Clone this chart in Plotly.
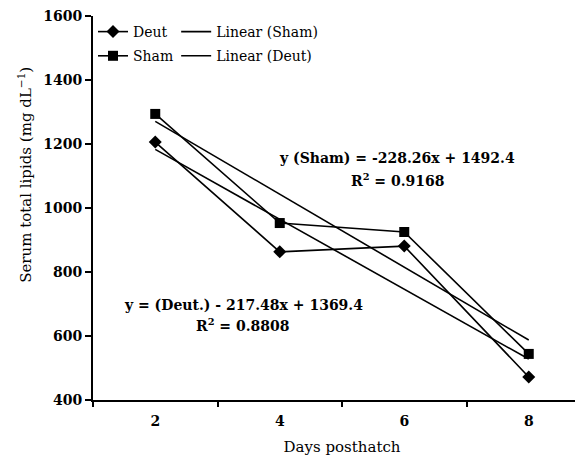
import numpy as np
import plotly.graph_objects as go

days = [2, 4, 6, 8]
deut = [1206, 863, 881, 472]
sham = [1294, 953, 925, 544]
y_ticks = [400, 600, 800, 1000, 1200, 1400, 1600]

FONT = "DejaVu Serif"
BLACK = "#000000"

# linear trendlines (fit on point index 1..4, as in a spreadsheet trendline)
idx = np.arange(1, len(days) + 1)
ps = np.polyfit(idx, sham, 1)
pdt = np.polyfit(idx, deut, 1)
trend_sham = list(np.polyval(ps, idx))
trend_deut = list(np.polyval(pdt, idx))

fig = go.Figure()
fig.add_trace(go.Scatter(x=days, y=deut, mode="lines+markers", name="Deut",
                         line=dict(color=BLACK, width=1.6),
                         marker=dict(symbol="diamond", size=10, color=BLACK),
                         legend="legend", legendgroup="a"))
fig.add_trace(go.Scatter(x=days, y=sham, mode="lines+markers", name="Sham",
                         line=dict(color=BLACK, width=1.6),
                         marker=dict(symbol="square", size=10, color=BLACK),
                         legend="legend", legendgroup="b"))
fig.add_trace(go.Scatter(x=[days[0], days[-1]], y=[trend_sham[0], trend_sham[-1]],
                         mode="lines", name="Linear (Sham)",
                         line=dict(color=BLACK, width=1.6),
                         legend="legend2", legendgroup="c"))
fig.add_trace(go.Scatter(x=[days[0], days[-1]], y=[trend_deut[0], trend_deut[-1]],
                         mode="lines", name="Linear (Deut)",
                         line=dict(color=BLACK, width=1.6),
                         legend="legend2", legendgroup="d"))

fig.update_layout(
    width=583, height=455,
    margin=dict(l=85, r=0, t=8, b=63),
    paper_bgcolor="white", plot_bgcolor="white",
    font=dict(family=FONT, size=14, color=BLACK),
    showlegend=True,
    legend=dict(x=0.0, y=1.0, xanchor="left", yanchor="top",
                bgcolor="rgba(0,0,0,0)", font=dict(size=14),
                tracegroupgap=3, itemwidth=30),
    legend2=dict(x=0.167, y=1.0, xanchor="left", yanchor="top",
                 bgcolor="rgba(0,0,0,0)", font=dict(size=14),
                 tracegroupgap=3, itemwidth=30),
    xaxis=dict(range=[1, 9], tickmode="array", tickvals=days,
               ticktext=[f"<b>{d}</b>" for d in days], ticks="",
               showline=True, linecolor=BLACK, linewidth=2, showgrid=False,
               zeroline=False, tickfont=dict(size=14), automargin=False,
               ticklabelstandoff=7, ticklabeloverflow="allow",
               minor=dict(tick0=1, dtick=2, ticks="outside", ticklen=5,
                          tickwidth=2, tickcolor=BLACK, showgrid=False),
               title=dict(text="Days posthatch", font=dict(size=15), standoff=14)),
    yaxis=dict(range=[400, 1600], tickmode="array", tickvals=y_ticks,
               ticktext=[f"<b>{v}</b>" for v in y_ticks],
               ticks="outside", ticklen=6, tickwidth=2, tickcolor=BLACK,
               showline=True, linecolor=BLACK, linewidth=2, showgrid=False,
               zeroline=False, tickfont=dict(size=14), automargin=False,
               ticklabeloverflow="allow"),
)

# y-axis title (placed off-centre, as in the reference)
fig.add_annotation(x=-0.161, y=0.586, xref="paper", yref="paper",
                   text="Serum total lipids (mg dL<sup>\u22121</sup>)",
                   textangle=-90, showarrow=False, font=dict(size=15))

fig.add_annotation(x=5.88, y=1156, xref="x", yref="y",
                   text="<b>y (Sham) = -228.26x + 1492.4</b>", showarrow=False,
                   font=dict(size=14))
fig.add_annotation(x=5.9, y=1088, xref="x", yref="y",
                   text="<b>R<sup>2</sup> = 0.9168</b>", showarrow=False,
                   font=dict(size=14))
fig.add_annotation(x=3.41, y=697, xref="x", yref="y",
                   text="<b>y = (Deut.) - 217.48x + 1369.4</b>", showarrow=False,
                   font=dict(size=14))
fig.add_annotation(x=3.41, y=634, xref="x", yref="y",
                   text="<b>R<sup>2</sup> = 0.8808</b>", showarrow=False,
                   font=dict(size=14))

fig.write_html("out.html")
